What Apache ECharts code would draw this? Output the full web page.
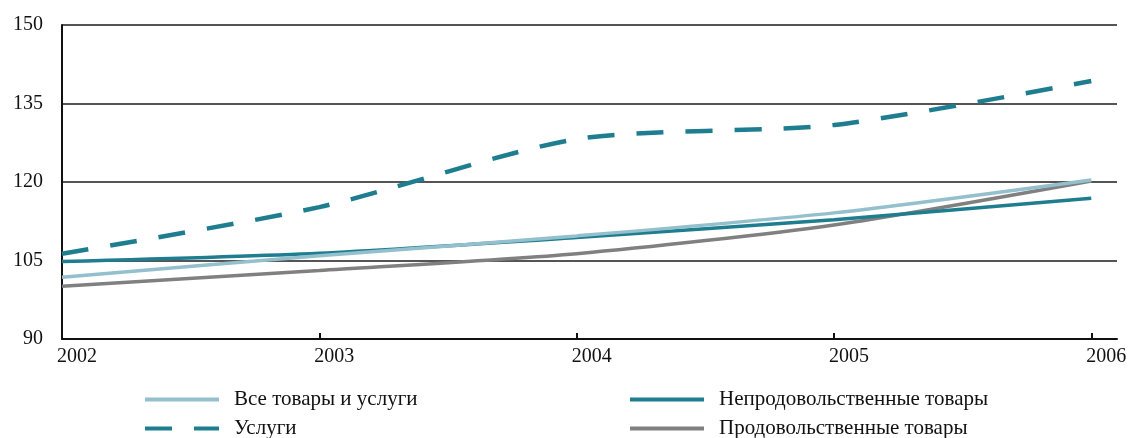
<!DOCTYPE html>
<html><head><meta charset="utf-8">
<script src="https://cdn.jsdelivr.net/npm/echarts@6/dist/echarts.min.js"></script>
<style>html,body{margin:0;padding:0;background:#fff}#c{width:1130px;height:438px}</style>
</head><body><div id="c"></div>
<script>
const years = [2002, 2003, 2004, 2005, 2006];
const yTicks = [90, 105, 120, 135, 150];
const allGoods = [101.8, 105.9, 109.7, 114.1, 120.4];
const services = [106.3, 115.2, 128.2, 130.9, 139.3];
const nonFood = [104.8, 106.4, 109.4, 112.8, 116.9];
const food = [100.1, 103.1, 106.3, 111.8, 120.2];
const names = ['Все товары и услуги', 'Услуги', 'Непродовольственные товары', 'Продовольственные товары'];

const font = 'Liberation Serif';
const pairs = v => years.map((y, i) => [y, v[i]]);
const chart = echarts.init(document.getElementById('c'));
const mk = (name, vals, color, width, type, z) => ({
  name, type: 'line', data: pairs(vals), symbol: 'none', smooth: 0.25, z,
  lineStyle: { color, width, type, cap: 'butt' }, itemStyle: { color }
});
const legendBase = {
  orient: 'vertical', top: 389, height: 120, padding: 0, itemWidth: 74, itemHeight: 14, itemGap: 8,
  itemStyle: { opacity: 0 },
  lineStyle: { width: 4 },
  textStyle: { fontFamily: font, fontSize: 21, lineHeight: 21, color: '#111', padding: [0, 0, 0, 10] }
};
chart.setOption({
  animation: false,
  grid: { left: 62, right: 13, top: 25, bottom: 99, containLabel: false },
  xAxis: {
    type: 'value', min: 2002, max: 2006.1, interval: 1,
    axisLine: { show: true, lineStyle: { color: '#111', width: 2 } },
    axisTick: { show: true, inside: true, length: 6, lineStyle: { color: '#111', width: 2 }, customValues: [2003, 2004, 2005, 2006] },
    axisLabel: { customValues: years, fontFamily: font, fontSize: 20, color: '#111', margin: 8, padding: [0, 0, 0, 30], formatter: v => String(v) },
    splitLine: { show: false }
  },
  yAxis: {
    type: 'value', min: yTicks[0], max: yTicks[yTicks.length - 1], interval: 15,
    axisLine: { show: true, lineStyle: { color: '#111', width: 2 } },
    axisTick: { show: false },
    axisLabel: { fontFamily: font, fontSize: 20, color: '#111', margin: 19, padding: [0, 0, 6, 0] },
    splitLine: { show: true, lineStyle: { color: '#555', width: 2 } }
  },
  legend: [
    Object.assign({ data: [names[0], names[1]], left: 143 }, legendBase),
    Object.assign({ data: [names[2], names[3]], left: 628 }, legendBase)
  ],
  series: [
    mk(names[3], food, '#808080', 3.5, 'solid', 2),
    mk(names[2], nonFood, '#1f7d90', 3.5, 'solid', 3),
    mk(names[0], allGoods, '#93c0cc', 3.5, 'solid', 4),
    mk(names[1], services, '#1e7e90', 4.5, [27, 22], 5)
  ]
});
</script></body></html>
